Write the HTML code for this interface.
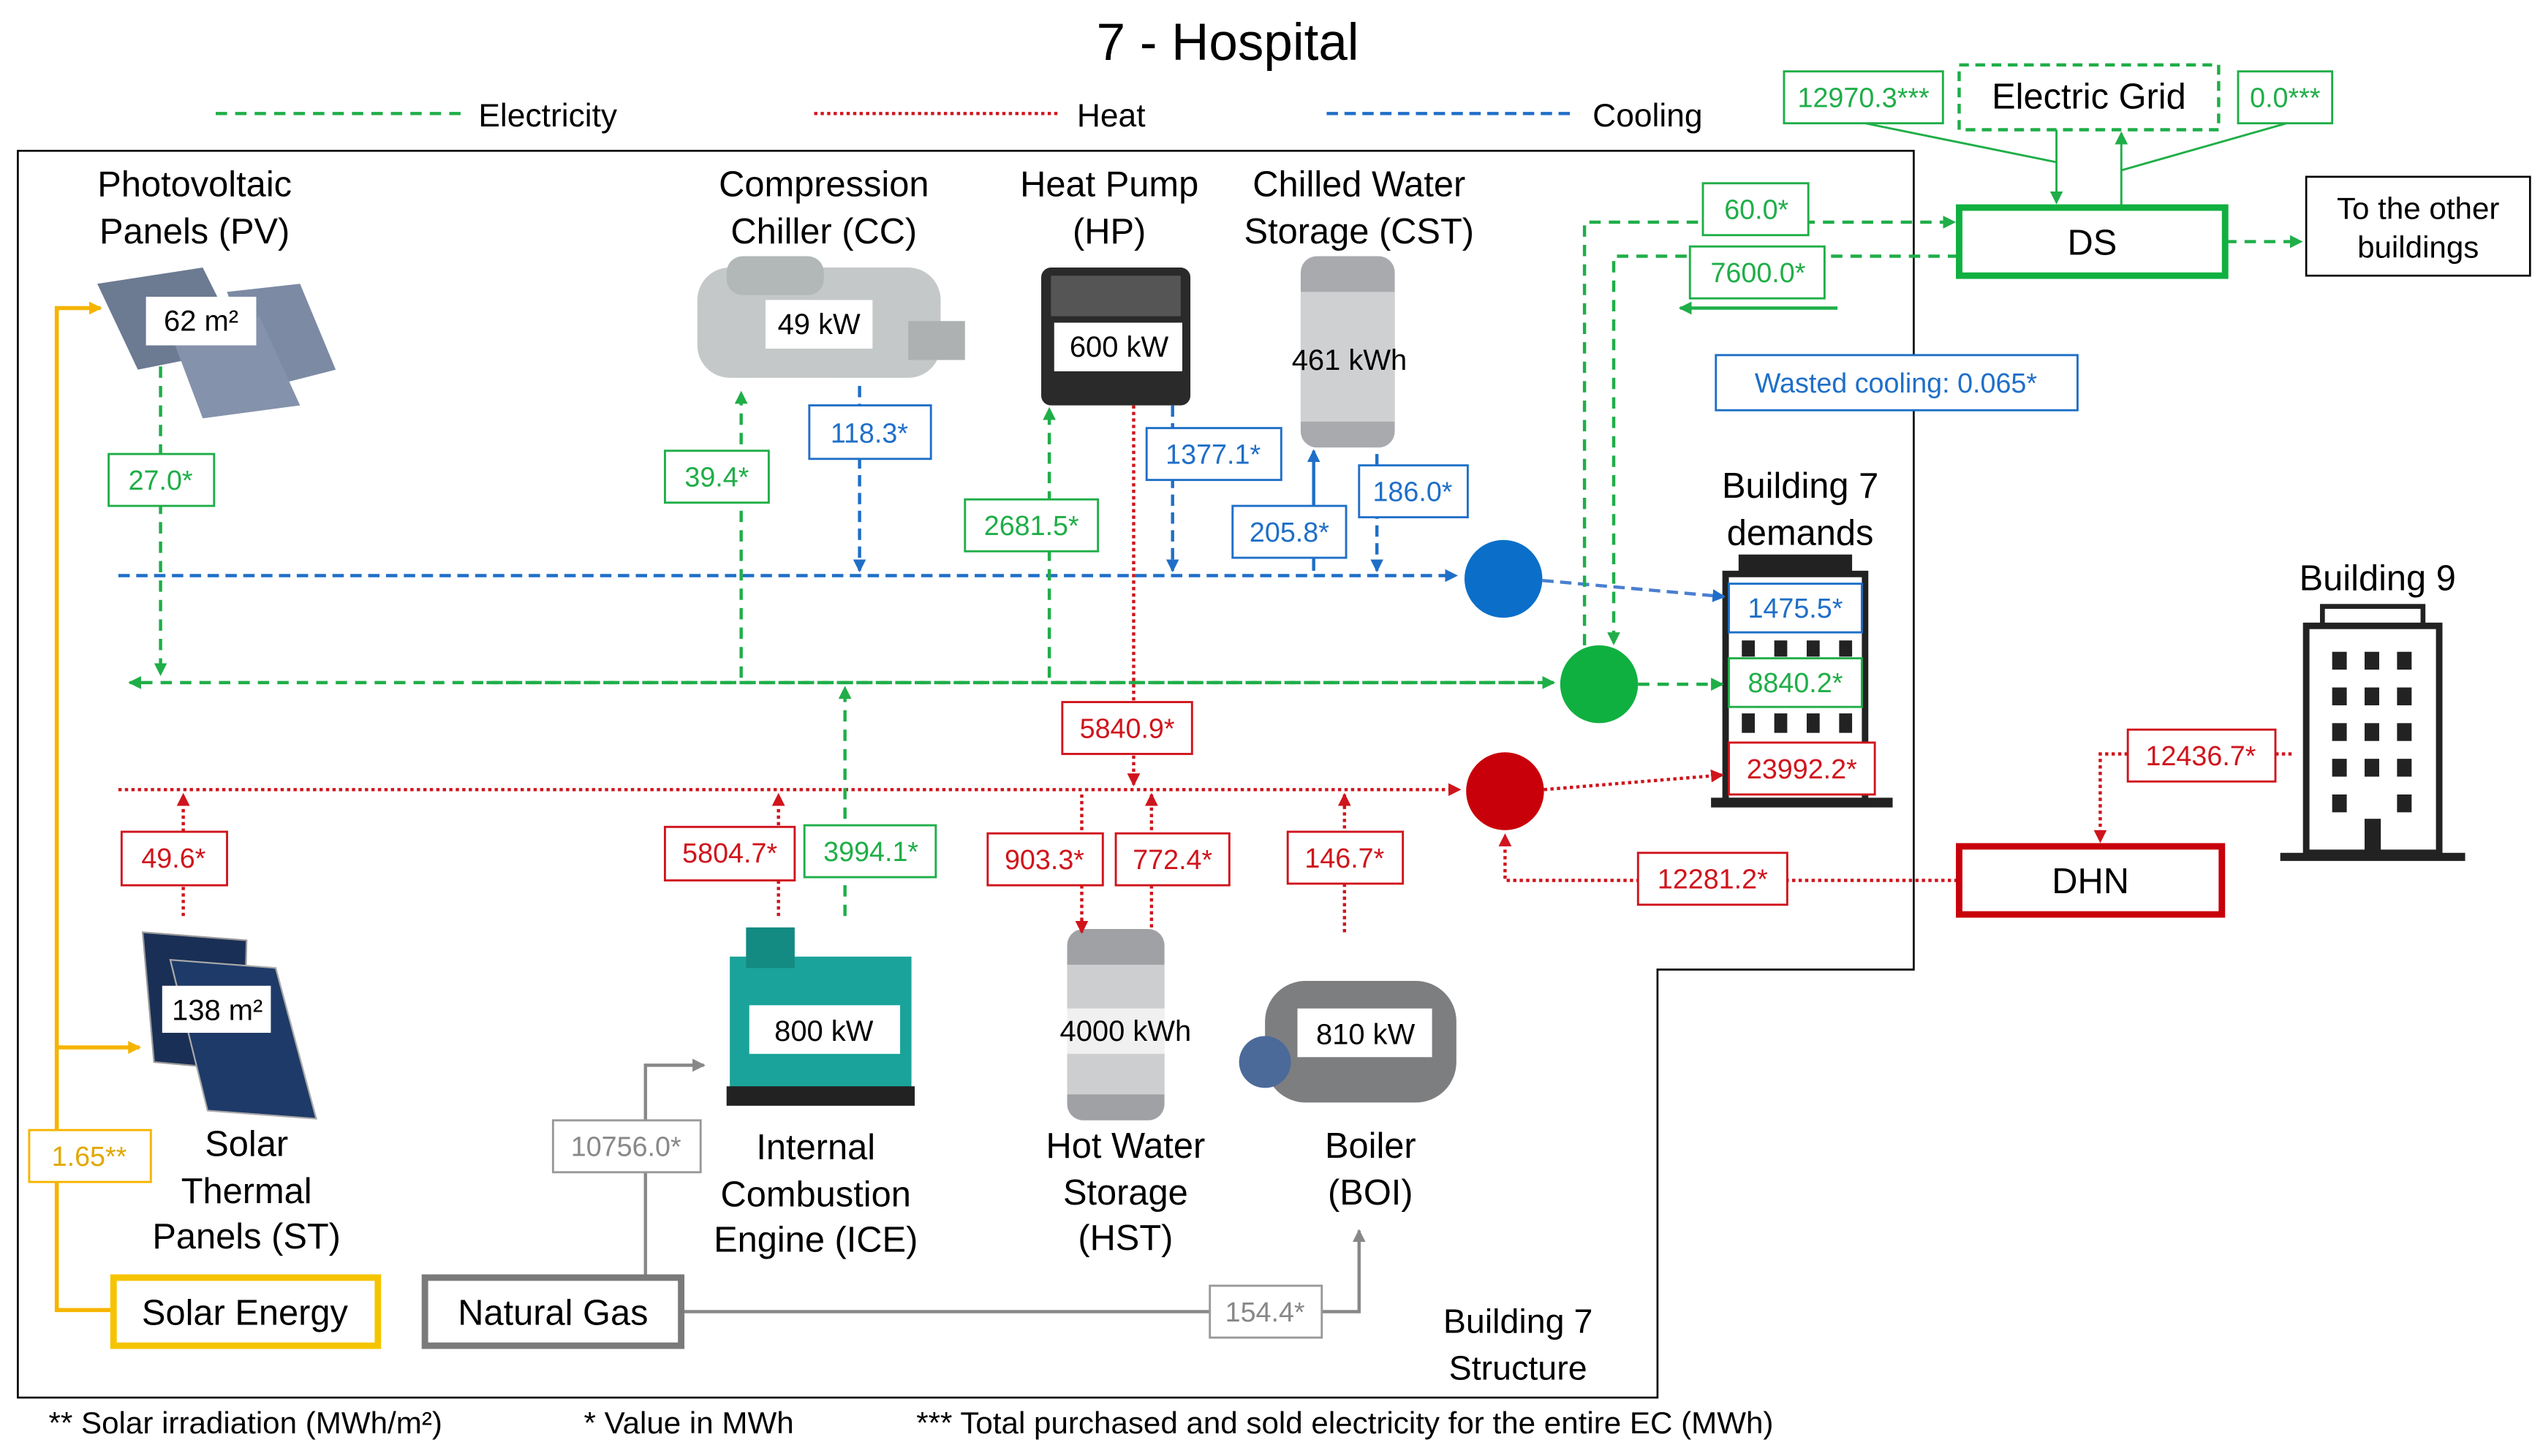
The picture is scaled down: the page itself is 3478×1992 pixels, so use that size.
<!DOCTYPE html>
<html><head><meta charset="utf-8"><style>
html,body{margin:0;padding:0;background:#fff}
svg{display:block}
text{font-family:"Liberation Sans",Arial,sans-serif}
</style></head><body>
<svg width="3478" height="1992" viewBox="0 0 1568 898" xmlns="http://www.w3.org/2000/svg">
<defs>
<marker id="ag" markerWidth="8" markerHeight="8" refX="7" refY="4" orient="auto" markerUnits="userSpaceOnUse"><path d="M0,0 L8,4 L0,8z" fill="#1fae48"/></marker>
<marker id="ab" markerWidth="8" markerHeight="8" refX="7" refY="4" orient="auto" markerUnits="userSpaceOnUse"><path d="M0,0 L8,4 L0,8z" fill="#1f6fc8"/></marker>
<marker id="ar" markerWidth="8" markerHeight="8" refX="7" refY="4" orient="auto" markerUnits="userSpaceOnUse"><path d="M0,0 L8,4 L0,8z" fill="#d0141c"/></marker>
<marker id="ao" markerWidth="8" markerHeight="8" refX="7" refY="4" orient="auto" markerUnits="userSpaceOnUse"><path d="M0,0 L8,4 L0,8z" fill="#f5b400"/></marker>
<marker id="ay" markerWidth="8" markerHeight="8" refX="7" refY="4" orient="auto" markerUnits="userSpaceOnUse"><path d="M0,0 L8,4 L0,8z" fill="#888"/></marker>
</defs>
<rect width="1568" height="898" fill="#fff"/>

<!-- equipment images (approx) -->
<g>
<polygon points="60,175 125,165 150,215 85,228" fill="#6c7a92"/>
<polygon points="140,180 185,175 207,228 160,240" fill="#7c8aa4"/>
<polygon points="105,205 160,195 185,250 125,258" fill="#8592ab"/>
<rect x="430" y="165" width="150" height="68" rx="20" fill="#c4c8c8"/>
<rect x="448" y="158" width="60" height="24" rx="10" fill="#b2b7b7"/>
<rect x="560" y="198" width="35" height="24" fill="#adb1b1"/>
<rect x="642" y="165" width="92" height="85" rx="6" fill="#2a2a2a"/>
<rect x="648" y="170" width="80" height="25" fill="#555"/>
<rect x="802" y="158" width="58" height="118" rx="10" fill="#a8aaad"/>
<rect x="802" y="180" width="58" height="80" fill="#cfd0d2"/>
<polygon points="88,575 152,580 150,660 95,655" fill="#1a2f55" stroke="#999"/>
<polygon points="105,592 170,597 195,690 128,685" fill="#1e3a68" stroke="#aaa"/>
<rect x="450" y="590" width="112" height="88" fill="#1aa39a"/>
<rect x="460" y="572" width="30" height="25" fill="#138a82"/>
<rect x="448" y="670" width="116" height="12" fill="#222"/>
<rect x="658" y="573" width="60" height="118" rx="10" fill="#9fa1a4"/>
<rect x="658" y="595" width="60" height="80" fill="#cdced0"/>
<rect x="780" y="605" width="118" height="75" rx="25" fill="#7d7e80"/>
<circle cx="780" cy="655" r="16" fill="#4b6a9a"/>
<!-- building 7 -->
<rect x="1072" y="342" width="70" height="12" fill="#222"/>
<rect x="1064" y="354" width="86" height="140" fill="#fff" stroke="#222" stroke-width="4"/>
<g fill="#222"><rect x="1074" y="395" width="8" height="10"/><rect x="1094" y="395" width="8" height="10"/><rect x="1114" y="395" width="8" height="10"/><rect x="1134" y="395" width="8" height="10"/>
<rect x="1074" y="440" width="8" height="12"/><rect x="1094" y="440" width="8" height="12"/><rect x="1114" y="440" width="8" height="12"/><rect x="1134" y="440" width="8" height="12"/></g>
<rect x="1055" y="492" width="112" height="6" fill="#222"/>
<!-- building 9 -->
<rect x="1432" y="374" width="62" height="12" fill="#fff" stroke="#222" stroke-width="3"/>
<rect x="1422" y="386" width="82" height="140" fill="#fff" stroke="#222" stroke-width="4"/>
<g fill="#222">
<rect x="1438" y="402" width="9" height="11"/><rect x="1458" y="402" width="9" height="11"/><rect x="1478" y="402" width="9" height="11"/>
<rect x="1438" y="424" width="9" height="11"/><rect x="1458" y="424" width="9" height="11"/><rect x="1478" y="424" width="9" height="11"/>
<rect x="1438" y="446" width="9" height="11"/><rect x="1458" y="446" width="9" height="11"/><rect x="1478" y="446" width="9" height="11"/>
<rect x="1438" y="468" width="9" height="11"/><rect x="1458" y="468" width="9" height="11"/><rect x="1478" y="468" width="9" height="11"/>
<rect x="1438" y="490" width="9" height="11"/><rect x="1458" y="505" width="10" height="21"/><rect x="1478" y="490" width="9" height="11"/>
</g>
<rect x="1406" y="526" width="114" height="5" fill="#222"/>
</g>

<text x="757" y="37" font-size="32" text-anchor="middle">7 - Hospital</text>
<line x1="133" y1="70" x2="285" y2="70" stroke="#1fae48" stroke-width="2" stroke-dasharray="7,5"/>
<text x="295" y="78" font-size="20">Electricity</text>
<line x1="502" y1="70" x2="652" y2="70" stroke="#d0141c" stroke-width="2" stroke-dasharray="2,2"/>
<text x="664" y="78" font-size="20">Heat</text>
<line x1="818" y1="70" x2="968" y2="70" stroke="#1f6fc8" stroke-width="2" stroke-dasharray="7,4"/>
<text x="982" y="78" font-size="20">Cooling</text>
<path d="M11,93 H1180 V598 H1022 V862 H11 Z" fill="none" stroke="#000" stroke-width="1.2"/>
<text x="936" y="822" font-size="21" text-anchor="middle">Building 7</text>
<text x="936" y="851" font-size="21" text-anchor="middle">Structure</text>

<g fill="none" stroke-width="2">
<line x1="73" y1="355" x2="898" y2="355" stroke="#1f6fc8" stroke-dasharray="7,4" marker-end="url(#ab)"/>
<line x1="951" y1="358" x2="1063" y2="368" stroke="#4a7fd0" stroke-dasharray="7,4" marker-end="url(#ab)"/>
<line x1="958" y1="421" x2="80" y2="421" stroke="#1fae48" stroke-dasharray="7,5" marker-end="url(#ag)"/>
<line x1="300" y1="421" x2="958" y2="421" stroke="#1fae48" stroke-dasharray="7,5" marker-end="url(#ag)"/>
<line x1="1010" y1="422" x2="1062" y2="422" stroke="#1fae48" stroke-dasharray="7,5" marker-end="url(#ag)"/>
<line x1="73" y1="487" x2="900" y2="487" stroke="#d0141c" stroke-dasharray="2,2" marker-end="url(#ar)"/>
<line x1="952" y1="487" x2="1062" y2="478" stroke="#d0141c" stroke-dasharray="2,2" marker-end="url(#ar)"/>
<polyline points="977,398 977,137 1205,137" stroke="#1fae48" stroke-dasharray="7,5" marker-end="url(#ag)"/>
<polyline points="1208,158 995,158 995,397" stroke="#1fae48" stroke-dasharray="7,5" marker-end="url(#ag)"/>
<line x1="1133" y1="190" x2="1036" y2="190" stroke="#1fae48" marker-end="url(#ag)"/>
<line x1="1372" y1="149" x2="1419" y2="149" stroke="#1fae48" stroke-dasharray="7,5" marker-end="url(#ag)"/>
<polyline points="1150,76 1268,100 1268,125" stroke="#1fae48" stroke-width="1.3" marker-end="url(#ag)"/>
<polyline points="1410,76 1308,105" stroke="#1fae48" stroke-width="1.3"/>
<line x1="1308" y1="128" x2="1308" y2="82" stroke="#1fae48" stroke-width="1.3" marker-end="url(#ag)"/>
<line x1="1268" y1="80" x2="1268" y2="100" stroke="#1fae48" stroke-width="1.3"/>
<polyline points="1207,543 928,543 928,515" stroke="#d0141c" stroke-dasharray="2,2" marker-end="url(#ar)"/>
<polyline points="1312,465 1295,465 1295,519" stroke="#d0141c" stroke-dasharray="2,2" marker-end="url(#ar)"/>
<line x1="1403" y1="465" x2="1415" y2="465" stroke="#d0141c" stroke-dasharray="2,2"/>
<line x1="99" y1="226" x2="99" y2="416" stroke="#1fae48" stroke-dasharray="7,5" marker-end="url(#ag)"/>
<line x1="457" y1="418" x2="457" y2="242" stroke="#1fae48" stroke-dasharray="7,5" marker-end="url(#ag)"/>
<line x1="530" y1="238" x2="530" y2="352" stroke="#1f6fc8" stroke-dasharray="7,4" marker-end="url(#ab)"/>
<line x1="647" y1="418" x2="647" y2="252" stroke="#1fae48" stroke-dasharray="7,5" marker-end="url(#ag)"/>
<line x1="723" y1="250" x2="723" y2="352" stroke="#1f6fc8" stroke-dasharray="7,4" marker-end="url(#ab)"/>
<line x1="699" y1="250" x2="699" y2="484" stroke="#d0141c" stroke-dasharray="2,2" marker-end="url(#ar)"/>
<line x1="810" y1="352" x2="810" y2="278" stroke="#1f6fc8" stroke-width="2" marker-end="url(#ab)"/>
<line x1="849" y1="280" x2="849" y2="352" stroke="#1f6fc8" stroke-dasharray="7,4" marker-end="url(#ab)"/>
<line x1="113" y1="565" x2="113" y2="490" stroke="#d0141c" stroke-dasharray="2,2" marker-end="url(#ar)"/>
<line x1="480" y1="565" x2="480" y2="490" stroke="#d0141c" stroke-dasharray="2,2" marker-end="url(#ar)"/>
<line x1="521" y1="565" x2="521" y2="424" stroke="#1fae48" stroke-dasharray="7,5" marker-end="url(#ag)"/>
<line x1="667" y1="490" x2="667" y2="575" stroke="#d0141c" stroke-dasharray="2,2" marker-end="url(#ar)"/>
<line x1="710" y1="572" x2="710" y2="490" stroke="#d0141c" stroke-dasharray="2,2" marker-end="url(#ar)"/>
<line x1="829" y1="575" x2="829" y2="490" stroke="#d0141c" stroke-dasharray="2,2" marker-end="url(#ar)"/>
<polyline points="70,808 35,808 35,190 62,190" stroke="#f5b400" stroke-width="2.5" marker-end="url(#ao)"/>
<line x1="35" y1="646" x2="86" y2="646" stroke="#f5b400" stroke-width="2.5" marker-end="url(#ao)"/>
<polyline points="398,788 398,657 434,657" stroke="#888" stroke-width="2" marker-end="url(#ay)"/>
<polyline points="420,809 838,809 838,759" stroke="#888" stroke-width="2" marker-end="url(#ay)"/>
</g>

<circle cx="927" cy="357" r="24" fill="#0b6fc9"/>
<circle cx="986" cy="422" r="24" fill="#10b040"/>
<circle cx="928" cy="488" r="24" fill="#c8000a"/>

<rect x="1208" y="40" width="160" height="40" fill="#fff" stroke="#1fae48" stroke-width="2" stroke-dasharray="6,4"/>
<text x="1288" y="67" font-size="22" text-anchor="middle">Electric Grid</text>
<rect x="1208" y="128" width="164" height="42" fill="#fff" stroke="#10b040" stroke-width="4"/>
<text x="1290" y="157" font-size="22" text-anchor="middle">DS</text>
<rect x="1422" y="109" width="138" height="61" fill="#fff" stroke="#000" stroke-width="1.2"/>
<text x="1491" y="135" font-size="19" text-anchor="middle">To the other</text>
<text x="1491" y="159" font-size="19" text-anchor="middle">buildings</text>
<rect x="1208" y="522" width="162" height="42" fill="#fff" stroke="#c8000a" stroke-width="4"/>
<text x="1289" y="551" font-size="22" text-anchor="middle">DHN</text>

<g font-size="17" text-anchor="middle">
<g fill="#fff" stroke="#1fae48" stroke-width="1.3">
<rect x="1100" y="44" width="98" height="32"/><rect x="1380" y="44" width="58" height="32"/>
<rect x="1050" y="113" width="65" height="32"/><rect x="1042" y="152" width="83" height="32"/>
<rect x="67" y="280" width="65" height="32"/><rect x="410" y="278" width="64" height="32"/>
<rect x="595" y="308" width="82" height="32"/><rect x="496" y="509" width="81" height="32"/>
<rect x="1066" y="406" width="82" height="30"/>
</g>
<g fill="#1fae48">
<text x="1149" y="66">12970.3***</text><text x="1409" y="66">0.0***</text>
<text x="1083" y="135">60.0*</text><text x="1084" y="174">7600.0*</text>
<text x="99" y="302">27.0*</text><text x="442" y="300">39.4*</text>
<text x="636" y="330">2681.5*</text><text x="537" y="531">3994.1*</text>
<text x="1107" y="427">8840.2*</text>
</g>
<g fill="#fff" stroke="#1f6fc8" stroke-width="1.3">
<rect x="1058" y="219" width="223" height="34"/><rect x="499" y="250" width="75" height="33"/>
<rect x="707" y="264" width="83" height="32"/><rect x="760" y="312" width="70" height="32"/>
<rect x="838" y="287" width="67" height="32"/><rect x="1066" y="360" width="82" height="30"/>
</g>
<g fill="#1f6fc8">
<text x="1169" y="242">Wasted cooling: 0.065*</text><text x="536" y="273">118.3*</text>
<text x="748" y="286">1377.1*</text><text x="795" y="334">205.8*</text>
<text x="871" y="309">186.0*</text><text x="1107" y="381">1475.5*</text>
</g>
<g fill="#fff" stroke="#d0141c" stroke-width="1.3">
<rect x="655" y="433" width="80" height="32"/><rect x="75" y="513" width="65" height="33"/>
<rect x="410" y="510" width="80" height="33"/><rect x="609" y="514" width="71" height="32"/>
<rect x="688" y="514" width="70" height="32"/><rect x="794" y="513" width="71" height="32"/>
<rect x="1010" y="526" width="92" height="32"/><rect x="1312" y="450" width="91" height="32"/>
<rect x="1066" y="458" width="90" height="32"/>
</g>
<g fill="#d0141c">
<text x="695" y="455">5840.9*</text><text x="107" y="535">49.6*</text>
<text x="450" y="532">5804.7*</text><text x="644" y="536">903.3*</text>
<text x="723" y="536">772.4*</text><text x="829" y="535">146.7*</text>
<text x="1056" y="548">12281.2*</text><text x="1357" y="472">12436.7*</text>
<text x="1111" y="480">23992.2*</text>
</g>
<rect x="18" y="697" width="75" height="32" fill="#fff" stroke="#f5b400" stroke-width="1.3"/>
<text x="55" y="719" fill="#e0a800">1.65**</text>
<rect x="341" y="691" width="91" height="32" fill="#fff" stroke="#999" stroke-width="1.3"/>
<text x="386" y="713" fill="#888">10756.0*</text>
<rect x="746" y="793" width="69" height="32" fill="#fff" stroke="#999" stroke-width="1.3"/>
<text x="780" y="815" fill="#888">154.4*</text>
</g>

<rect x="70" y="788" width="163" height="42" fill="#fff" stroke="#f5c400" stroke-width="4"/>
<text x="151" y="817" font-size="22" text-anchor="middle">Solar Energy</text>
<rect x="262" y="788" width="158" height="42" fill="#fff" stroke="#7a7a7a" stroke-width="4"/>
<text x="341" y="817" font-size="22" text-anchor="middle">Natural Gas</text>

<g font-size="18" text-anchor="middle">
<rect x="90" y="183" width="68" height="30" fill="#fff"/><text x="124" y="204">62 m²</text>
<rect x="472" y="185" width="66" height="30" fill="#fff"/><text x="505" y="206">49 kW</text>
<rect x="650" y="199" width="79" height="30" fill="#fff"/><text x="690" y="220">600 kW</text>
<text x="832" y="228">461 kWh</text>
<rect x="100" y="608" width="67" height="29" fill="#fff"/><text x="134" y="629">138 m²</text>
<rect x="462" y="620" width="93" height="30" fill="#fff"/><text x="508" y="642">800 kW</text>
<rect x="650" y="622" width="88" height="28" fill="#fff" opacity="0.7"/><text x="694" y="642">4000 kWh</text>
<rect x="800" y="622" width="83" height="30" fill="#fff"/><text x="842" y="644">810 kW</text>
</g>

<g font-size="22" text-anchor="middle">
<text x="120" y="121">Photovoltaic</text><text x="120" y="150">Panels (PV)</text>
<text x="508" y="121">Compression</text><text x="508" y="150">Chiller (CC)</text>
<text x="684" y="121">Heat Pump</text><text x="684" y="150">(HP)</text>
<text x="838" y="121">Chilled Water</text><text x="838" y="150">Storage (CST)</text>
<text x="1110" y="307">Building 7</text><text x="1110" y="336">demands</text>
<text x="1466" y="364">Building 9</text>
<text x="152" y="713">Solar</text><text x="152" y="742">Thermal</text><text x="152" y="770">Panels (ST)</text>
<text x="503" y="715">Internal</text><text x="503" y="744">Combustion</text><text x="503" y="772">Engine (ICE)</text>
<text x="694" y="714">Hot Water</text><text x="694" y="743">Storage</text><text x="694" y="771">(HST)</text>
<text x="845" y="714">Boiler</text><text x="845" y="743">(BOI)</text>
</g>

<g font-size="19">
<text x="30" y="884">** Solar irradiation (MWh/m²)</text>
<text x="360" y="884">* Value in MWh</text>
<text x="565" y="884">*** Total purchased and sold electricity for the entire EC (MWh)</text>
</g>
</svg>
</body></html>
